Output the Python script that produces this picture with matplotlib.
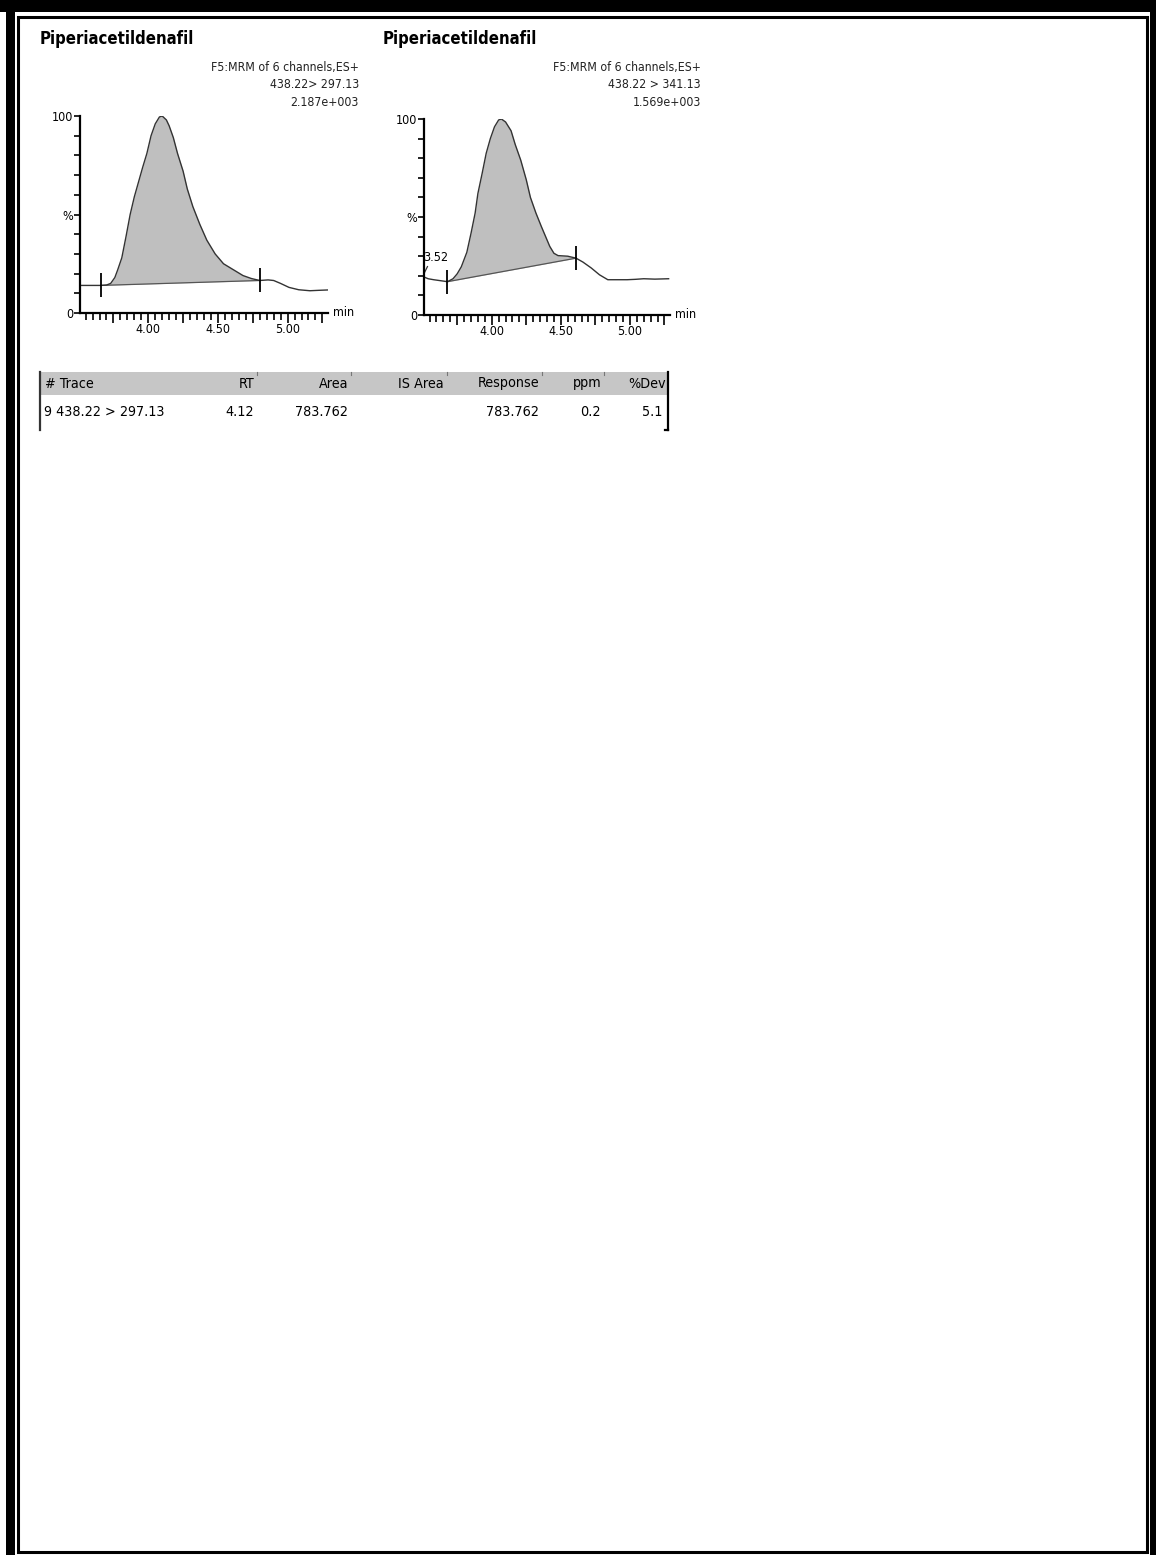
import numpy as np
import matplotlib
matplotlib.use("Agg")
import matplotlib.pyplot as plt
from matplotlib import font_manager
from matplotlib.patches import Rectangle
from matplotlib.ticker import FuncFormatter, MultipleLocator, FixedLocator

# ---------------------------------------------------------------- data
compound = "Piperiacetildenafil"
function_desc = "F5:MRM of 6 channels,ES+"

# channel 1: 438.22 > 297.13
ch1_transition = "438.22> 297.13"
ch1_intensity = "2.187e+003"
ch1_time = [3.51, 3.58, 3.66, 3.70, 3.73, 3.76, 3.78, 3.81, 3.84, 3.87, 3.90,
            3.92, 3.96, 3.99, 4.02, 4.05, 4.08, 4.10, 4.13, 4.15, 4.18, 4.21,
            4.25, 4.28, 4.32, 4.37, 4.42, 4.48, 4.54, 4.61, 4.68, 4.74, 4.80,
            4.86, 4.90, 4.95, 5.01, 5.08, 5.16, 5.22, 5.29]
ch1_signal = [14.0, 14.0, 14.0, 14.2, 15.0, 18.0, 21.8, 28.0, 38.7, 50.0, 59.0,
              64.0, 74.0, 81.0, 90.0, 96.0, 99.5, 100.0, 98.0, 95.0, 89.0, 81.0,
              72.0, 63.0, 54.0, 45.0, 37.0, 30.0, 25.0, 22.0, 19.0, 17.5, 16.5,
              16.8, 16.5, 15.0, 13.0, 11.8, 11.3, 11.5, 11.7]
ch1_integration = [(3.66, 14.0), (4.80, 16.5)]

# channel 2: 438.22 > 341.13
ch2_transition = "438.22 > 341.13"
ch2_intensity = "1.569e+003"
ch2_time = [3.50, 3.54, 3.58, 3.63, 3.68, 3.72, 3.75, 3.78, 3.82, 3.85, 3.88,
            3.90, 3.93, 3.96, 3.99, 4.02, 4.05, 4.07, 4.10, 4.14, 4.17, 4.21,
            4.25, 4.28, 4.32, 4.36, 4.39, 4.42, 4.45, 4.48, 4.55, 4.61, 4.66,
            4.72, 4.78, 4.84, 4.91, 4.98, 5.04, 5.10, 5.18, 5.28]
ch2_signal = [19.7, 18.5, 18.0, 17.5, 17.0, 18.5, 21.0, 24.6, 32.0, 41.6, 52.0,
              62.0, 72.0, 82.5, 90.0, 96.0, 99.5, 100.0, 98.5, 94.0, 87.0, 79.0,
              69.0, 60.0, 52.0, 45.0, 40.0, 35.0, 31.5, 30.3, 30.0, 29.0, 27.0,
              24.0, 20.5, 18.0, 18.0, 18.0, 18.2, 18.5, 18.3, 18.5]
ch2_integration = [(3.68, 17.0), (4.61, 29.0)]
ch2_peak_label = ("3.52", 3.50, 19.7)

# results table
table_columns = ["# Trace", "RT", "Area", "IS Area", "Response", "ppm", "%Dev"]
table_row = ["9 438.22 > 297.13", "4.12", "783.762", "", "783.762", "0.2", "5.1"]

x_range = (3.51, 5.29)

# ---------------------------------------------------------------- fonts
available = {f.name for f in font_manager.fontManager.ttflist}
narrow = [n for n in ("Liberation Sans Narrow", "Arial Narrow") if n in available]
FONT = narrow[0] if narrow else "DejaVu Sans"
plt.rcParams["font.family"] = [FONT, "DejaVu Sans"]
if not narrow:
    plt.rcParams["font.stretch"] = "condensed"

W, H = 1156, 1555
fig = plt.figure(figsize=(W / 100, H / 100), dpi=100)

# page overlay in pixel coordinates (frame, headers, table)
page = fig.add_axes([0, 0, 1, 1], zorder=0)
page.set_xlim(0, W)
page.set_ylim(H, 0)
page.axis("off")

# double page frame
page.add_patch(Rectangle((6, 3), 9, H, color="black", lw=0))          # left thick
page.add_patch(Rectangle((0, 0), W, 12, color="black", lw=0))         # top thick
page.add_patch(Rectangle((1150, 0), 6, H, color="black", lw=0))       # right thick
page.add_patch(Rectangle((18, 17), 1128.5, 1534.5, fill=False,
                         edgecolor="black", lw=2.2))                  # inner thin


def time_label(v, _pos):
    return f"{v:.2f}" if abs(v * 2 - round(v * 2)) < 1e-6 else ""


def chromatogram(rect, time, signal, integ, transition, intensity,
                 title_x, header_right, peak_label=None):
    ax = fig.add_axes(rect, zorder=2)
    ax.set_facecolor("none")
    t = np.asarray(time)
    s = np.asarray(signal)
    (t0, b0), (t1, b1) = integ
    mask = (t >= t0) & (t <= t1)
    tt = np.concatenate([[t0], t[mask], [t1]])
    ss = np.concatenate([[np.interp(t0, t, s)], s[mask], [np.interp(t1, t, s)]])
    base = np.interp(tt, [t0, t1], [b0, b1])
    ax.fill_between(tt, base, ss, color="#bfbfbf", lw=0)
    ax.plot([t0, t1], [b0, b1], color="#555555", lw=0.9)
    ax.plot(t, s, color="#333333", lw=1.0)
    ax.plot([t0, t1], [b0, b1], ls="none", marker="|", ms=17, mew=1.3,
            color="black")
    if peak_label is not None:
        lbl, px, py = peak_label
        ax.plot([px, px + 0.035], [py, py + 5], color="#333333", lw=0.9)
        ax.text(px + 0.005, py + 6.5, lbl, fontsize=9, ha="left", va="bottom")

    ax.set_xlim(*x_range)
    ax.set_ylim(0, 100)
    for side in ("top", "right"):
        ax.spines[side].set_visible(False)
    for side in ("left", "bottom"):
        ax.spines[side].set_linewidth(1.6)
    ax.xaxis.set_major_locator(MultipleLocator(0.25))
    ax.xaxis.set_major_formatter(FuncFormatter(time_label))
    ax.xaxis.set_minor_locator(MultipleLocator(0.05))
    ax.tick_params(axis="x", which="major", length=7, width=1.2, pad=0,
                   labelsize=9)
    ax.tick_params(axis="x", which="minor", length=5, width=1.2)
    ax.yaxis.set_major_locator(FixedLocator([0, 50, 100]))
    ax.set_yticklabels(["0", "%", "100"])
    ax.yaxis.set_minor_locator(MultipleLocator(10))
    ax.tick_params(axis="y", which="both", length=4, width=1.2, pad=1,
                   labelsize=9)
    ax.text(1.02, 0.0, "min", transform=ax.transAxes, fontsize=9,
            ha="left", va="center")

    # header block
    page.text(title_x, 39, compound, fontsize=12, fontweight="bold",
              ha="left", va="center")
    for i, line in enumerate([function_desc, transition, intensity]):
        page.text(header_right, 67 + 17.5 * i, line, fontsize=8.8,
                  ha="right", va="center", color="#222222")
    return ax


chromatogram([80 / W, 1 - 313 / H, 248 / W, 197 / H], ch1_time, ch1_signal,
             ch1_integration, ch1_transition, ch1_intensity, 40, 359)
chromatogram([424 / W, 1 - 315 / H, 246 / W, 196 / H], ch2_time, ch2_signal,
             ch2_integration, ch2_transition, ch2_intensity, 383, 701,
             peak_label=ch2_peak_label)

# results table
tab_left, tab_right = 40, 668
head_top, head_bot, row_y = 372, 395, 412
page.add_patch(Rectangle((tab_left, head_top), tab_right - tab_left,
                         head_bot - head_top, color="#c6c6c6", lw=0))
page.plot([tab_left, tab_left], [head_top, 430], color="#333333", lw=1.6)
page.plot([tab_right, tab_right], [head_top, 430], color="black", lw=1.6)
page.plot([tab_right - 3, tab_right], [430, 430], color="black", lw=1.6)
col_right = [None, 254, 348, 444, 539, 601, 666]
for x in col_right[1:-1]:
    page.plot([x + 3, x + 3], [head_top, head_top + 3], color="#777777", lw=0.8)
for name, val, xr in zip(table_columns, table_row, col_right):
    if xr is None:
        page.text(45, (head_top + head_bot) / 2, name, fontsize=10.3,
                  ha="left", va="center")
        page.text(44, row_y, val, fontsize=10.3, ha="left", va="center")
    else:
        page.text(xr, (head_top + head_bot) / 2, name, fontsize=10.3,
                  ha="right", va="center")
        page.text(xr - (4 if name == "%Dev" else 0), row_y, val,
                  fontsize=10.3, ha="right", va="center")

fig.savefig("out.png", dpi=100, facecolor="white")
